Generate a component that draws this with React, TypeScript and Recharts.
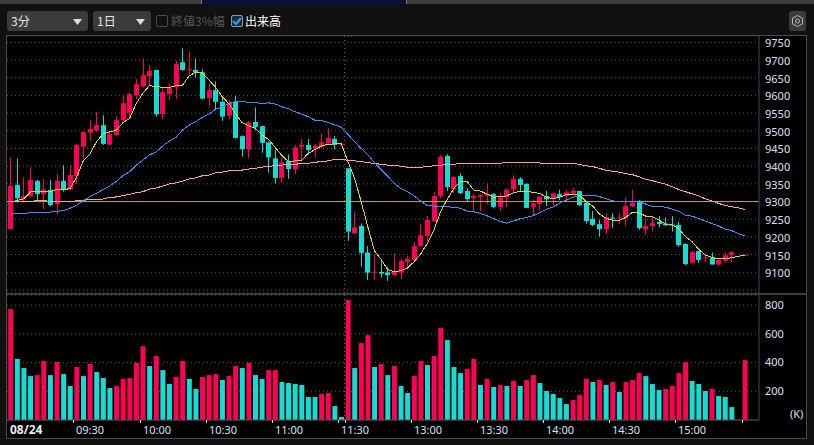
import React from 'react';
import { ComposedChart, Bar, Line, XAxis, YAxis, CartesianGrid, ReferenceLine, Cell } from 'recharts';

const times = [
    '09:00','09:03','09:06','09:09','09:12','09:15','09:18','09:21','09:24','09:27',
    '09:30','09:33','09:36','09:39','09:42','09:45','09:48','09:51','09:54','09:57',
    '10:00','10:03','10:06','10:09','10:12','10:15','10:18','10:21','10:24','10:27',
    '10:30','10:33','10:36','10:39','10:42','10:45','10:48','10:51','10:54','10:57',
    '11:00','11:03','11:06','11:09','11:12','11:15','11:18','11:21','11:24','11:27',
    '11:30','12:30','12:33','12:36','12:39','12:42','12:45','12:48','12:51','12:54','12:57',
    '13:00','13:03','13:06','13:09','13:12','13:15','13:18','13:21','13:24','13:27',
    '13:30','13:33','13:36','13:39','13:42','13:45','13:48','13:51','13:54','13:57',
    '14:00','14:03','14:06','14:09','14:12','14:15','14:18','14:21','14:24','14:27',
    '14:30','14:33','14:36','14:39','14:42','14:45','14:48','14:51','14:54','14:57',
    '15:00','15:03','15:06','15:09','15:12','15:15','15:18','15:21','15:24','15:27','15:30',
];

const opens = [
    9222,9347,9306,9315,9358,9321,9333,9293,9358,9334,
    9372,9455,9495,9502,9516,9461,9488,9530,9551,9601,
    9626,9655,9672,9547,9604,9623,9694,9671,9672,9665,
    9593,9615,9582,9543,9582,9485,9448,9525,9513,9467,
    9422,9367,9415,9392,9455,9460,9449,9455,9464,9477,
    9460,9394,9210,9231,9156,9099,9101,9100,9092,9099,
    9129,9135,9174,9203,9244,9316,9429,9335,9372,9330,
    9310,9313,9316,9321,9285,9312,9335,9364,9350,9285,
    9293,9316,9309,9321,9316,9323,9330,9297,9251,9236,
    9222,9255,9252,9255,9287,9302,9221,9231,9242,9238,
    9235,9234,9180,9127,9160,9139,9142,9122,9133,9149,null,9149,
];
const closes = [
    9344,9309,9315,9361,9321,9334,9290,9358,9333,9375,
    9460,9497,9505,9516,9463,9491,9530,9578,9604,9632,
    9657,9669,9547,9609,9621,9690,9672,9674,9665,9591,
    9615,9582,9540,9580,9480,9448,9524,9511,9466,9425,
    9367,9411,9392,9453,9460,9446,9457,9467,9480,9460,
    9463,9215,9227,9155,9099,9102,9096,9092,9102,9132,
    9138,9174,9205,9248,9316,9426,9341,9369,9324,9307,
    9316,9318,9321,9285,9312,9334,9364,9347,9282,9295,
    9314,9306,9323,9312,9326,9330,9290,9245,9234,9222,
    9255,9252,9255,9287,9297,9225,9231,9240,9236,9233,
    9232,9177,9123,9157,9135,9142,9122,9135,9148,9157,null,9150,
];
const highs = [
    9425,9422,9368,9397,9361,9363,9361,9378,9403,9403,
    9464,9497,9530,9554,9544,9500,9542,9600,9608,9646,
    9705,9686,9672,9620,9634,9697,9733,9725,9705,9674,
    9632,9640,9594,9587,9598,9487,9528,9566,9515,9470,
    9446,9425,9433,9460,9477,9477,9463,9493,9507,9485,
    9465,9394,9270,9238,9174,9149,9135,9116,9154,9139,
    9146,9186,9237,9259,9327,9432,9434,9372,9380,9338,
    9321,9321,9351,9324,9323,9337,9375,9369,9351,9306,
    9316,9330,9323,9333,9333,9340,9330,9300,9273,9248,
    9267,9267,9268,9312,9333,9304,9253,9257,9259,9255,
    9259,9243,9182,9160,9160,9154,9156,9137,9157,9159,null,9151,
];
const lows = [
    9222,9297,9297,9312,9300,9279,9287,9265,9328,9333,
    9350,9420,9471,9497,9460,9458,9486,9528,9538,9589,
    9623,9626,9540,9532,9587,9589,9670,9660,9651,9589,
    9570,9560,9528,9533,9478,9427,9422,9503,9438,9382,
    9351,9353,9364,9378,9415,9433,9424,9450,9464,9448,
    9457,9189,9208,9116,9078,9078,9085,9076,9090,9081,
    9109,9135,9174,9189,9244,9310,9330,9324,9321,9301,
    9273,9273,9293,9281,9273,9285,9327,9329,9282,9259,
    9274,9287,9290,9304,9304,9321,9287,9238,9231,9201,
    9208,9226,9236,9231,9285,9220,9205,9215,9227,9231,
    9215,9172,9121,9125,9127,9129,9122,9118,9127,9129,null,9148,
];

const maShort = [
    9299,9303,9308,9327,9328,9329,9328,9334,9333,9337,
    9370,9415,9434,9469,9491,9497,9502,9523,9535,9577,
    9606,9628,9625,9623,9623,9627,9629,9655,9666,9664,
    9643,9623,9596,9577,9549,9523,9514,9507,9488,9476,
    9453,9431,9413,9415,9417,9436,9447,9457,9462,9463,
    9463,9413,9366,9300,9229,9161,9137,9108,9101,9105,
    9112,9130,9152,9182,9220,9271,9306,9337,9356,9357,
    9333,9330,9321,9312,9314,9316,9325,9329,9329,9326,
    9323,9312,9308,9312,9320,9321,9318,9300,9287,9265,
    9253,9247,9247,9255,9270,9268,9259,9257,9248,9236,
    9234,9224,9201,9187,9165,9149,9142,9139,9139,9141,9145,9149,
];
const maMid = [
    9264,9267,9267,9268,9270,9270,9270,9273,9274,9281,
    9290,9302,9314,9323,9334,9344,9357,9373,9384,9403,
    9417,9432,9440,9457,9471,9481,9502,9516,9526,9538,
    9547,9561,9568,9577,9583,9582,9581,9580,9577,9579,
    9576,9568,9562,9554,9547,9540,9530,9529,9524,9517,
    9510,9490,9469,9450,9433,9410,9391,9372,9351,9337,
    9328,9316,9301,9289,9287,9287,9285,9284,9281,9273,
    9271,9267,9260,9252,9244,9239,9245,9251,9255,9260,
    9269,9278,9285,9295,9304,9312,9317,9318,9318,9314,
    9308,9302,9300,9300,9300,9299,9293,9286,9286,9284,
    9279,9273,9261,9259,9252,9245,9238,9231,9222,9218,9209,9203,
];
const maLong = [
    9300,9301,9301,9301,9302,9302,9301,9300,9300,9300,
    9302,9304,9305,9306,9307,9312,9313,9317,9320,9325,
    9328,9335,9338,9344,9350,9353,9358,9364,9367,9373,
    9375,9381,9383,9387,9389,9389,9392,9394,9397,9400,
    9401,9403,9405,9405,9408,9408,9411,9413,9415,9419,
    9419,9417,9415,9413,9410,9408,9405,9403,9402,9400,
    9397,9397,9397,9399,9401,9403,9404,9405,9408,9408,
    9408,9408,9408,9408,9408,9411,9411,9411,9411,9409,
    9409,9408,9408,9408,9408,9408,9405,9401,9399,9394,
    9388,9386,9383,9379,9376,9370,9363,9359,9354,9349,
    9342,9334,9328,9322,9316,9308,9302,9295,9289,9285,9282,9278,
];

const volumes = [
    773,425,362,306,313,411,313,404,320,237,
    369,306,390,334,293,223,237,286,293,397,
    515,376,446,348,251,300,411,286,216,300,
    313,320,279,306,376,362,397,313,286,348,
    348,265,258,251,244,160,160,181,188,97,
    21,836,362,536,592,369,390,313,376,237,
    188,306,411,383,446,641,557,369,327,355,
    425,244,286,230,244,237,272,237,279,313,
    258,202,181,153,111,139,174,286,265,279,
    244,265,195,265,279,327,306,251,209,216,
    237,327,404,272,251,202,216,167,160,90,null,418,
];
// volume colours don't always follow the candle colour, so keep the red ones here
const redVolumeBars = [
    0,4,5,7,10,12,16,17,18,19,20,22,25,26,29,30,31,33,34,36,39,40,47,48,51,53,54,56,58,61,62,64,65,
    69,70,72,74,76,78,79,85,86,87,89,91,93,94,95,99,100,101,102,106,111,
];

const priceTicks = [9050, 9100, 9150, 9200, 9250, 9300, 9350, 9400, 9450, 9500, 9550, 9600, 9650, 9700, 9750];
const volumeTicks = [200, 400, 600, 800];
const timeLabels = ['09:30', '10:00', '10:30', '11:00', '11:30', '13:00', '13:30', '14:00', '14:30', '15:00'];
const tickOnly = ['12:30', '15:30'];
const prevClose = 9300;

const RED = '#ff0055';
const TEAL = '#12dcd4';
const AXIS_TEXT = '#d3e3f5';
const FRAME = '#4a4a4a';
const GRID = '#5c5c5c';

const priceData = times.map((time, i) => ({
    time,
    open: opens[i],
    close: closes[i],
    range: highs[i] === null ? null : [lows[i], highs[i]],
    maShort: maShort[i],
    maMid: maMid[i],
    maLong: maLong[i],
}));
const volumeData = times.map((time, i) => ({ time, volume: volumes[i], up: redVolumeBars.includes(i) }));

const Candle = (props: any) => {
    const { x, y, height, payload } = props;
    if (!payload.range) return null;
    const [low, high] = payload.range;
    const k = height / (high - low);
    const top = y + (high - Math.max(payload.open, payload.close)) * k;
    const bottom = y + (high - Math.min(payload.open, payload.close)) * k;
    const color = payload.close >= payload.open ? RED : TEAL;
    const left = Math.round(x);
    return (
        <g>
            <rect x={left + 2} y={y} width={1} height={height} fill={color} />
            <rect x={left} y={top} width={5} height={Math.max(bottom - top, 1)} fill={color} />
        </g>
    );
};

const TimeTick = (props: any) => {
    const { x, y, payload } = props;
    const value = payload.value;
    const labelled = timeLabels.includes(value);
    if (!labelled && !tickOnly.includes(value)) return null;
    const tx = Math.round(x - 3.3);
    return (
        <g>
            <line x1={tx + 0.5} x2={tx + 0.5} y1={y} y2={y + 3} stroke="#dddddd" />
            {labelled && (
                <text x={tx + 3} y={y + 14} fill={AXIS_TEXT} fontSize={11} fontFamily="'Noto Sans'">{value}</text>
            )}
        </g>
    );
};

const Select = ({ left, width, label }: { left: number; width: number; label: string }) => (
    <div style={{ position: 'absolute', left, top: 11, width, height: 20, background: '#3b3b3b', borderRadius: 3, color: '#e8e8e8', fontSize: 12, lineHeight: '20px' }}>
        <span style={{ position: 'absolute', left: 4 }}>{label}</span>
        <svg width={9} height={6} style={{ position: 'absolute', right: 6, top: 8 }}>
            <path d="M0 0 H9 L4.5 6 Z" fill="#dddddd" />
        </svg>
    </div>
);

const App: React.FC = () => {
    return (
        <div style={{ position: 'relative', width: 814, height: 445, background: '#111111', overflow: 'hidden', fontFamily: "'Noto Sans CJK JP', 'Noto Sans', sans-serif" }}>
            <style>{'body{margin:0} .recharts-line-curve{shape-rendering:crispEdges}'}</style>

            {/* tab strip cut off at the top */}
            <div style={{ position: 'absolute', left: 0, top: 0, width: 814, height: 4, background: '#3d3d3d' }} />
            <div style={{ position: 'absolute', left: 201, top: 0, width: 204, height: 4, background: '#06113a', borderLeft: '1px solid #777', borderRight: '1px solid #777' }} />

            <Select left={7} width={81} label="3分" />
            <Select left={93} width={58} label="1日" />

            <div style={{ position: 'absolute', left: 156, top: 15, width: 10, height: 10, border: '1px solid #4a4a4a', borderRadius: 2 }} />
            <div style={{ position: 'absolute', left: 171, top: 11, color: '#555555', fontSize: 12, lineHeight: '20px' }}>終値3%幅</div>
            <div style={{ position: 'absolute', left: 231, top: 15, width: 10, height: 10, border: '1px solid #8a9ab0', borderRadius: 2, background: '#1c2a3a' }}>
                <svg width={10} height={10} style={{ display: 'block' }}>
                    <path d="M1 5 L4 8 L9 2" stroke="#26a8f0" strokeWidth={2} fill="none" />
                </svg>
            </div>
            <div style={{ position: 'absolute', left: 245, top: 11, color: '#ffffff', fontSize: 12, lineHeight: '20px' }}>出来高</div>

            <div style={{ position: 'absolute', left: 789, top: 11, width: 17, height: 20, background: '#3b3b3b', borderRadius: 3 }}>
                <svg width={17} height={20}>
                    <path d="M8.5 4.5 L13.5 7.2 V12.8 L8.5 15.5 L3.5 12.8 V7.2 Z" fill="none" stroke="#b5b5b5" strokeWidth={1} />
                    <circle cx={8.5} cy={10} r={2} fill="none" stroke="#b5b5b5" />
                </svg>
            </div>

            {/* chart frame */}
            <div style={{ position: 'absolute', left: 6, top: 35, width: 799, height: 402, background: '#000000', border: `1px solid ${FRAME}` }} />
            <div style={{ position: 'absolute', left: 7, top: 293, width: 799, height: 2, background: '#3c3c3c' }} />

            <div style={{ position: 'absolute', left: 7, top: 36 }}>
                <ComposedChart width={799} height={257} data={priceData} margin={{ top: 0, right: 0, bottom: 0, left: 0 }} barCategoryGap={0}>
                    <CartesianGrid vertical={false} stroke={GRID} strokeDasharray="1 3" />
                    <XAxis dataKey="time" hide padding={{ left: 0.2, right: 10.8 }} />
                    <YAxis
                        orientation="right"
                        width={47}
                        domain={[9041.5, 9768]}
                        ticks={priceTicks}
                        interval={0}
                        tickFormatter={(v: number) => (v === 9050 ? '' : String(v))}
                        tick={{ fill: AXIS_TEXT, fontSize: 11, fontFamily: "'Noto Sans'", dy: 1 }}
                        axisLine={{ stroke: FRAME }}
                        tickLine={false}
                        tickSize={0}
                        tickMargin={6}
                    />
                    <ReferenceLine x="12:30" position="start" stroke="#6a6a6a" strokeDasharray="1 3" />
                    <Bar dataKey="range" barSize={5} shape={<Candle />} isAnimationActive={false} />
                    <ReferenceLine y={prevClose} stroke="#c9a42e" />
                    <Line dataKey="maLong" stroke="#ff9db8" dot={false} strokeWidth={1} isAnimationActive={false} />
                    <Line dataKey="maMid" stroke="#3f8ef5" dot={false} strokeWidth={1} isAnimationActive={false} />
                    <Line dataKey="maShort" stroke="#dcd32a" dot={false} strokeWidth={1} isAnimationActive={false} />
                </ComposedChart>
            </div>

            <div style={{ position: 'absolute', left: 7, top: 295 }}>
                <ComposedChart width={799} height={143} data={volumeData} margin={{ top: 0, right: 0, bottom: 0, left: 0 }} barCategoryGap={0}>
                    <CartesianGrid vertical={false} stroke={GRID} strokeDasharray="1 3" />
                    <XAxis
                        dataKey="time"
                        height={18}
                        padding={{ left: 0.2, right: 10.8 }}
                        interval={0}
                        axisLine={{ stroke: '#555555' }}
                        tickLine={false}
                        tickSize={0}
                        tickMargin={0}
                        tick={<TimeTick />}
                    />
                    <YAxis
                        orientation="right"
                        width={47}
                        domain={[0, 871]}
                        ticks={volumeTicks}
                        interval={0}
                        tick={{ fill: AXIS_TEXT, fontSize: 11, fontFamily: "'Noto Sans'" }}
                        axisLine={{ stroke: FRAME }}
                        tickLine={false}
                        tickSize={0}
                        tickMargin={6}
                    />
                    <ReferenceLine x="12:30" position="start" stroke="#6a6a6a" strokeDasharray="1 3" />
                    <Bar dataKey="volume" barSize={5} isAnimationActive={false}>
                        {volumeData.map((entry, index) => (
                            <Cell key={`cell-${index}`} fill={entry.up ? RED : TEAL} />
                        ))}
                    </Bar>
                </ComposedChart>
            </div>

            <div style={{ position: 'absolute', left: 10, top: 422, color: '#e6eef8', fontSize: 12, fontWeight: 700, lineHeight: '16px', fontFamily: "'Noto Sans'" }}>08/24</div>
            <div style={{ position: 'absolute', left: 790, top: 406, color: AXIS_TEXT, fontSize: 11, lineHeight: '16px', fontFamily: "'Noto Sans'" }}>(K)</div>
        </div>
    );
};

export default App;
